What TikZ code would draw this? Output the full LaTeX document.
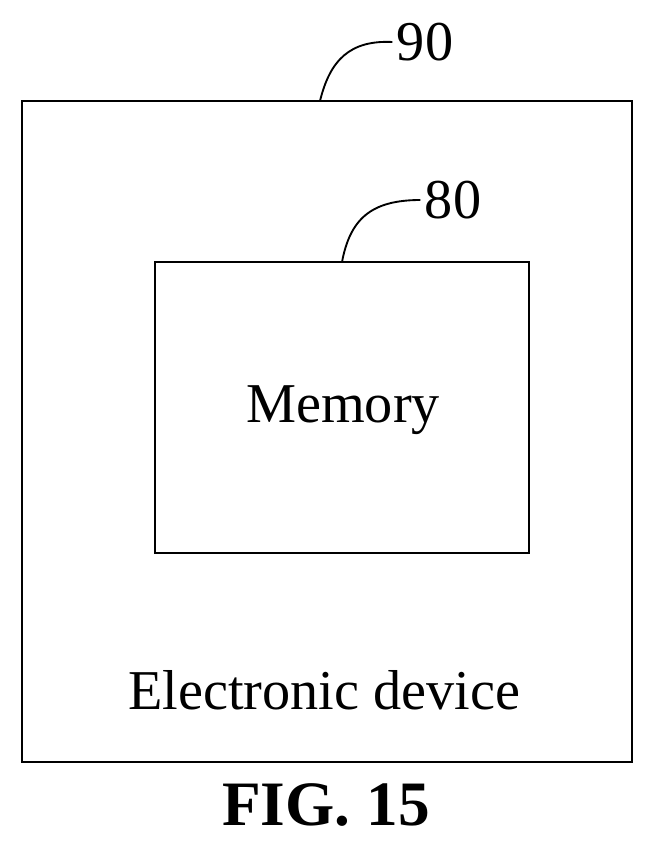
\documentclass[tikz,border=0pt]{standalone}
\usepackage{fontspec}
\setmainfont{Liberation Serif}
\begin{document}
\begin{tikzpicture}[x=0.03cm,y=-0.03cm,line width=1.6pt,
  lbl/.style={font=\fontsize{48}{52}\selectfont,inner sep=0pt}]
\useasboundingbox (0,0) rectangle (655,846);
\path(22,101) coordinate(devNW) (632,762) coordinate(devSE) (155,262) coordinate(memNW) (529,553) coordinate(memSE);
\path(343,410) node[lbl](memory){Memory} (324,690) node[lbl](device){Electronic device} (326,805) node[lbl,font=\fontsize{54}{58}\selectfont\bfseries](fig){FIG. 15};
\path(425,42) node[lbl](n90){90} (453,200) node[lbl](n80){80};
\path(320,101) coordinate(devTop) (342,262) coordinate(memTop);

\draw (devNW) rectangle (devSE);
\draw (memNW) rectangle (memSE);
\draw (devTop) .. controls (330,60) and (350,40) .. ([xshift=-3pt]n90.west);
\draw (memTop) .. controls (350,220) and (370,200) .. ([xshift=-3pt]n80.west);
\end{tikzpicture}
\end{document}
